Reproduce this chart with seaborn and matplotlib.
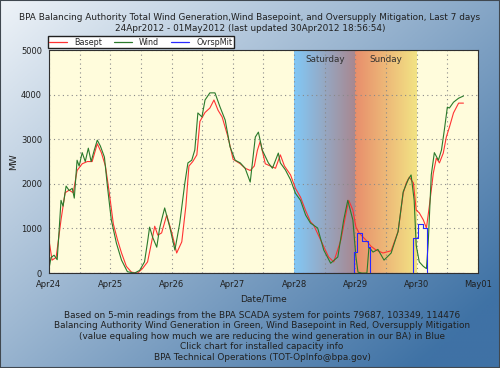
import numpy as np
import pandas as pd
import matplotlib
matplotlib.use("Agg")
import matplotlib.pyplot as plt
import matplotlib.dates as mdates
from matplotlib.colors import to_rgb
from matplotlib.lines import Line2D
from matplotlib.patches import Rectangle
import seaborn as sns

# hours after 24Apr2012 00:00, values in MW
wind_hours = [0, 0.8, 2.0, 3.2, 3.9, 4.7, 5.5, 6.7, 7.9, 9.1, 9.9, 11.0, 11.8, 13.0,
              14.2, 15.4, 16.5, 17.7, 18.9, 20.1, 21.7, 22.9, 24.4, 26.4, 28.4, 30.7,
              33.5, 35.5, 37.4, 38.6, 39.4, 40.6, 42.2, 43.3, 44.1, 45.3, 46.5, 47.3,
              49.3, 51.2, 53.2, 54.4, 55.9, 57.1, 58.3, 59.9, 61.1, 63.0, 65.0, 67.0,
              69.0, 70.9, 72.9, 74.9, 76.8, 78.8, 80.8, 82.0, 83.5, 85.9, 87.5, 89.8,
              90.6, 92.6, 94.6, 96.5, 98.5, 100.5, 102.4, 105.2, 107.6, 110.3, 113.1,
              115.4, 117.0, 119.0, 120.2, 121.0, 122.5, 124.5, 125.3, 126.9, 128.8,
              131.2, 134.0, 136.7, 138.7, 140.7, 141.8, 143.0, 143.8, 145.0, 146.6,
              147.8, 148.5, 149.7, 150.9, 152.5, 153.7, 154.8, 156.0, 156.8, 158.4,
              160.4, 162.3]
wind_mw = [100, 350, 400, 300, 900, 1630, 1500, 1950, 1850, 1900, 1680, 2530, 2400, 2700,
           2500, 2800, 2500, 2750, 2980, 2850, 2600, 1930, 1190, 670, 290, 30,
           0, 60, 250, 700, 1030, 800, 580, 1000, 1190, 1460, 1200, 1030,
           515, 1120, 2020, 2470, 2530, 2760, 3590, 3500, 3880, 4040, 4040, 3720,
           3430, 2830, 2530, 2470, 2350, 2040, 3050, 3160, 2760, 2470, 2350, 2690,
           2470, 2310, 2090, 1790, 1630, 1300, 1120, 1010, 515, 220, 360,
           1190, 1630, 1190, 360, 20, 0, 0, 580, 470, 530,
           290, 450, 930, 1820, 2100, 2200, 1630, 620, 250, 150,
           100, 670, 2200, 2700, 2530, 2760, 3200, 3720, 3700, 3830,
           3920, 3970]

basept_hours = [0, 1.2, 2.8, 4.7, 6.3, 7.9, 9.5, 11.0, 13.0, 15.0, 16.9, 18.9, 20.5,
                22.1, 23.6, 25.2, 26.8, 28.4, 30.3, 32.3, 34.7, 36.6, 38.6, 40.2, 41.4,
                42.6, 44.1, 46.1, 48.1, 50.0, 52.0, 53.6, 54.8, 56.3, 57.9, 59.1, 61.1,
                63.0, 64.6, 66.2, 67.8, 70.1, 72.1, 74.9, 76.8, 78.8, 80.4, 81.6, 82.7,
                84.7, 86.7, 88.7, 90.6, 92.2, 94.6, 96.5, 98.5, 100.5, 102.4, 103.6,
                106.4, 109.5, 111.5, 114.3, 116.2, 117.4, 119.0, 120.2, 121.4, 124.1,
                126.1, 128.1, 130.8, 134.0, 136.7, 138.7, 139.9, 141.1, 142.7, 143.8,
                145.0, 146.6, 147.8, 148.9, 150.5, 151.7, 152.9, 154.4, 155.6, 156.8,
                158.4, 160.4, 162.3]
basept_mw = [740, 290, 350, 1190, 1800, 1860, 1800, 2300, 2450, 2500, 2500, 2900, 2700,
             2400, 1800, 1100, 750, 450, 150, 20, 0, 100, 250, 700, 1050,
             850, 900, 1300, 900, 450, 700, 1500, 2400, 2500, 2650, 3400, 3600,
             3700, 3880, 3650, 3500, 3050, 2550, 2450, 2350, 2300, 2400, 2750, 2950,
             2450, 2400, 2350, 2650, 2400, 2200, 1900, 1700, 1400, 1150, 1080,
             740, 360, 250, 740, 1300, 1630, 1410, 1030, 900, 740,
             600, 515, 450, 500, 930, 1790, 2020, 2150, 2020, 1410,
             1350, 1190, 1010, 1480, 2240, 2580, 2470, 2690, 3050, 3270,
             3590, 3810, 3810]

ovrsp_hours = [0, 119.4, 120.6, 122.5, 124.9, 125.7, 142.6, 144.6, 146.6, 148.1, 162.9]
ovrsp_mw = [0, 470, 900, 720, 580, 0, 780, 1100, 1010, 0, 0]

day_labels = ["Apr24", "Apr25", "Apr26", "Apr27", "Apr28", "Apr29", "Apr30", "May01"]
weekend_names = ["Saturday", "Sunday"]
weekend_days = ["2012-04-28", "2012-04-29"]
weekend_colors = [("#82c8f6", "#a9878f"), ("#e88e6c", "#f2e384")]

title = ("BPA Balancing Authority Total Wind Generation,Wind Basepoint, and Oversupply Mitigation, Last 7 days\n"
         "24Apr2012 - 01May2012 (last updated 30Apr2012 18:56:54)")
footer = ("Based on 5-min readings from the BPA SCADA system for points 79687, 103349, 114476\n"
          "Balancing Authority Wind Generation in Green, Wind Basepoint in Red, Oversupply Mitigation\n"
          "(value equaling how much we are reducing the wind generation in our BA) in Blue\n"
          "Click chart for installed capacity info\n"
          "BPA Technical Operations (TOT-OpInfo@bpa.gov)")

series_colors = {"Basept": "#ff3333", "Wind": "#2b7a2b", "OvrspMit": "#2828ff"}

base = pd.Timestamp("2012-04-24")
wind = pd.DataFrame({"time": base + pd.to_timedelta(wind_hours, unit="h"), "MW": wind_mw})
basept = pd.DataFrame({"time": base + pd.to_timedelta(basept_hours, unit="h"), "MW": basept_mw})
ovrsp = pd.DataFrame({"time": base + pd.to_timedelta(ovrsp_hours, unit="h"), "MW": ovrsp_mw})

sns.set_style("white")
plt.rcParams["font.family"] = ["DejaVu Sans"]

fig = plt.figure(figsize=(5, 3.68), dpi=100)

# blue gradient page background
bg = fig.add_axes([0, 0, 1, 1], zorder=-10)
gx, gy = np.meshgrid(np.linspace(0, 1, 200), np.linspace(0, 1, 150))
t = np.clip(0.6 * gx + 0.5 * gy, 0, 1)[..., None]
c0, c1 = np.array(to_rgb("#eef3f8")), np.array(to_rgb("#3f72a5"))
bg.imshow(c0 + (c1 - c0) * t, aspect="auto", extent=[0, 1, 0, 1], origin="upper")
bg.axis("off")
fig.patches.append(Rectangle((0, 0), 1, 1, transform=fig.transFigure, fill=False,
                             edgecolor="#404850", linewidth=1.5))

ax = fig.add_axes([0.098, 0.258, 0.858, 0.606])
ax.set_facecolor("#fffcdc")

# weekend shading
for name, day, (ca, cb) in zip(weekend_names, weekend_days, weekend_colors):
    x0 = mdates.date2num(pd.Timestamp(day))
    s = np.linspace(0, 1, 100)[None, :, None]
    ca, cb = np.array(to_rgb(ca)), np.array(to_rgb(cb))
    ax.imshow(ca + (cb - ca) * s, aspect="auto", extent=[x0, x0 + 1, 0, 5000],
              zorder=0.2)
    ax.text(x0 + 0.5, 4880, name, ha="center", va="top", fontsize=6.3, color="#303030")

sns.lineplot(data=basept, x="time", y="MW", ax=ax, color=series_colors["Basept"],
             lw=0.8, estimator=None)
sns.lineplot(data=wind, x="time", y="MW", ax=ax, color=series_colors["Wind"],
             lw=0.8, estimator=None)
sns.lineplot(data=ovrsp, x="time", y="MW", ax=ax, color=series_colors["OvrspMit"],
             lw=0.8, estimator=None, drawstyle="steps-post")

ax.set_xlim(mdates.date2num(base), mdates.date2num(base + pd.Timedelta(days=7)))
ax.set_ylim(0, 5000)
ax.xaxis.set_major_locator(mdates.DayLocator())
ax.xaxis.set_minor_locator(mdates.HourLocator(byhour=[12]))
ax.set_xticks(ax.get_xticks(), day_labels)
ax.set_yticks(range(0, 5001, 1000))
ax.set_yticks(range(0, 5001, 200), minor=True)
ax.tick_params(axis="both", which="major", labelsize=6, length=3, color="#303030",
               labelcolor="#202020", pad=2)
ax.tick_params(axis="both", which="minor", length=1.5, color="#606060")
ax.grid(True, axis="y", which="major", color="#8a8a8a", ls=(0, (1, 3)), lw=0.8)
ax.grid(True, axis="x", which="both", color="#8a8a8a", ls=(0, (1, 3)), lw=0.8)
ax.set_axisbelow(True)
for sp in ax.spines.values():
    sp.set_color("#303030")
    sp.set_linewidth(0.8)

ax.set_xlabel("Date/Time", fontsize=6.5, color="#202020", labelpad=4)
ax.set_ylabel("MW", fontsize=6.5, color="#202020")
ax.yaxis.set_label_coords(-0.072, 0.5)

handles = [Line2D([], [], color=c, lw=0.9) for c in series_colors.values()]
fig.legend(handles, list(series_colors), loc="upper left", bbox_to_anchor=(0.096, 0.901),
           ncol=3, fontsize=5.8, frameon=True, fancybox=False, edgecolor="#202020",
           framealpha=1, handlelength=2.2, columnspacing=1.5, borderpad=0.15,
           handletextpad=0.9, borderaxespad=0)

fig.text(0.5, 0.965, title, ha="center", va="top", fontsize=6.4, color="#202020",
         linespacing=1.25)
fig.text(0.524, 0.155, footer, ha="center", va="top", fontsize=6.4, color="#202020",
         linespacing=1.2)

fig.savefig("out.png", dpi=100)
